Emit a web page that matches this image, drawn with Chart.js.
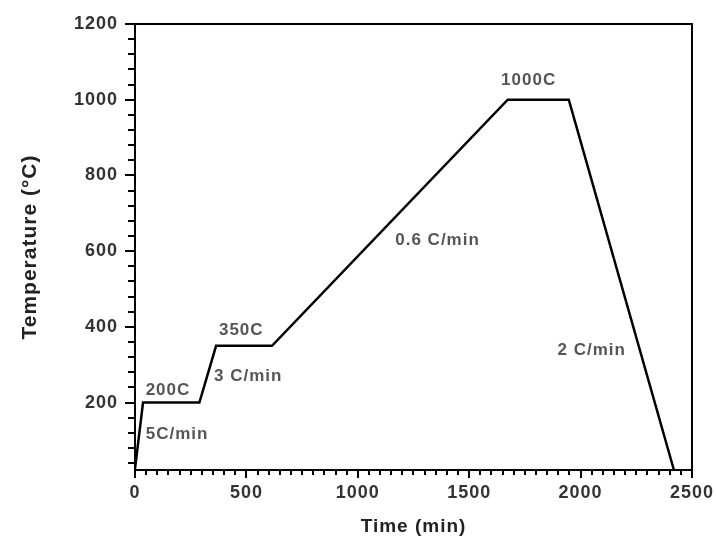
<!DOCTYPE html>
<html>
<head>
<meta charset="utf-8">
<script src="https://cdn.jsdelivr.net/npm/chart.js@4"></script>
<style>
  body { margin: 0; background: #fff; }
</style>
</head>
<body>
<canvas id="chart" width="716" height="544"></canvas>
<script>
// Heating profile
const timeMin = [0, 36, 289, 364, 615, 1673, 1947, 2419];
const tempC = [25, 200, 200, 350, 350, 1000, 1000, 22];

// Tick labels
const xTicks = [0, 500, 1000, 1500, 2000, 2500];
const yTicks = [200, 400, 600, 800, 1000, 1200];

// Text written on the plot, at data positions
const noteText = ['200C', '5C/min', '350C', '3 C/min', '0.6 C/min', '1000C', '2 C/min'];
const noteX = [148, 189, 477, 508, 1358, 1767, 2050];
const noteY = [233, 115, 391, 270, 628, 1051, 339];

const FONT = '"Liberation Sans", Arial, sans-serif';

// Minor ticks and frame <------------------------------------------>
const frameAndMinor = {
    id: 'frameAndMinor',
    beforeDraw(chart) {
        chart.ctx.letterSpacing = '1px';
    },
    afterDraw(chart) {
        const ctx = chart.ctx;
        const area = chart.chartArea;
        const xs = chart.scales.x;
        const ys = chart.scales.y;
        ctx.save();
        ctx.strokeStyle = '#000';
        ctx.lineWidth = 2;
        ctx.beginPath();
        // minor x ticks every 50
        for (let v = 50; v < 2500; v += 50) {
            if (v % 500 === 0) continue;
            const px = Math.round(xs.getPixelForValue(v));
            ctx.moveTo(px, area.bottom);
            ctx.lineTo(px, area.bottom + 5);
        }
        // minor y ticks every 40
        for (let v = 40; v < 1200; v += 40) {
            if (v % 200 === 0 || v < ys.min) continue;
            const py = Math.round(ys.getPixelForValue(v));
            ctx.moveTo(area.left, py);
            ctx.lineTo(area.left - 7, py);
        }
        ctx.stroke();
        // top and right frame lines
        ctx.beginPath();
        ctx.moveTo(area.left, area.top);
        ctx.lineTo(area.right, area.top);
        ctx.lineTo(area.right, area.bottom);
        ctx.stroke();

        // notes
        ctx.fillStyle = '#555';
        ctx.font = 'bold 17px ' + FONT;
        ctx.textAlign = 'center';
        ctx.textBaseline = 'middle';
        noteText.forEach((t, i) => {
            ctx.fillText(t, xs.getPixelForValue(noteX[i]), ys.getPixelForValue(noteY[i]));
        });
        ctx.restore();
    }
};

new Chart(document.getElementById('chart'), {
    type: 'line',
    data: {
        datasets: [{
            data: timeMin.map((t, i) => ({ x: t, y: tempC[i] })),
            borderColor: '#000',
            borderWidth: 2.5,
            pointRadius: 0,
            tension: 0,
            fill: false
        }]
    },
    options: {
        responsive: false,
        animation: false,
        layout: { padding: { top: 24, right: 24, left: 0, bottom: 0 } },
        plugins: {
            legend: { display: false },
            tooltip: { enabled: false }
        },
        scales: {
            x: {
                type: 'linear',
                min: 0,
                max: 2500,
                afterFit(scale) { scale.height = 74; },
                afterBuildTicks(scale) { scale.ticks = xTicks.map(v => ({ value: v })); },
                border: { display: true, color: '#000', width: 2 },
                grid: { drawOnChartArea: false, drawTicks: true, tickLength: 8, color: '#000', lineWidth: 2 },
                ticks: {
                    maxRotation: 0,
                    padding: 4,
                    color: '#333',
                    font: { family: FONT, size: 18, weight: 'bold' },
                    callback: v => String(v)
                },
                title: {
                    display: true,
                    text: 'Time (min)',
                    color: '#222',
                    padding: { top: 0, bottom: 6 },
                    font: { family: FONT, size: 19, weight: 'bold' }
                }
            },
            y: {
                min: 22,
                max: 1200,
                afterFit(scale) { scale.width = 135; },
                afterBuildTicks(scale) { scale.ticks = yTicks.map(v => ({ value: v })); },
                border: { display: true, color: '#000', width: 2 },
                grid: { drawOnChartArea: false, drawTicks: true, tickLength: 10, color: '#000', lineWidth: 2 },
                ticks: {
                    padding: 7,
                    color: '#333',
                    font: { family: FONT, size: 18, weight: 'bold' },
                    callback: v => String(v)
                },
                title: {
                    display: true,
                    text: 'Temperature (°C)',
                    color: '#222',
                    padding: { top: 18, bottom: 0 },
                    font: { family: FONT, size: 21, weight: 'bold' }
                }
            }
        }
    },
    plugins: [frameAndMinor]
});
</script>
</body>
</html>
